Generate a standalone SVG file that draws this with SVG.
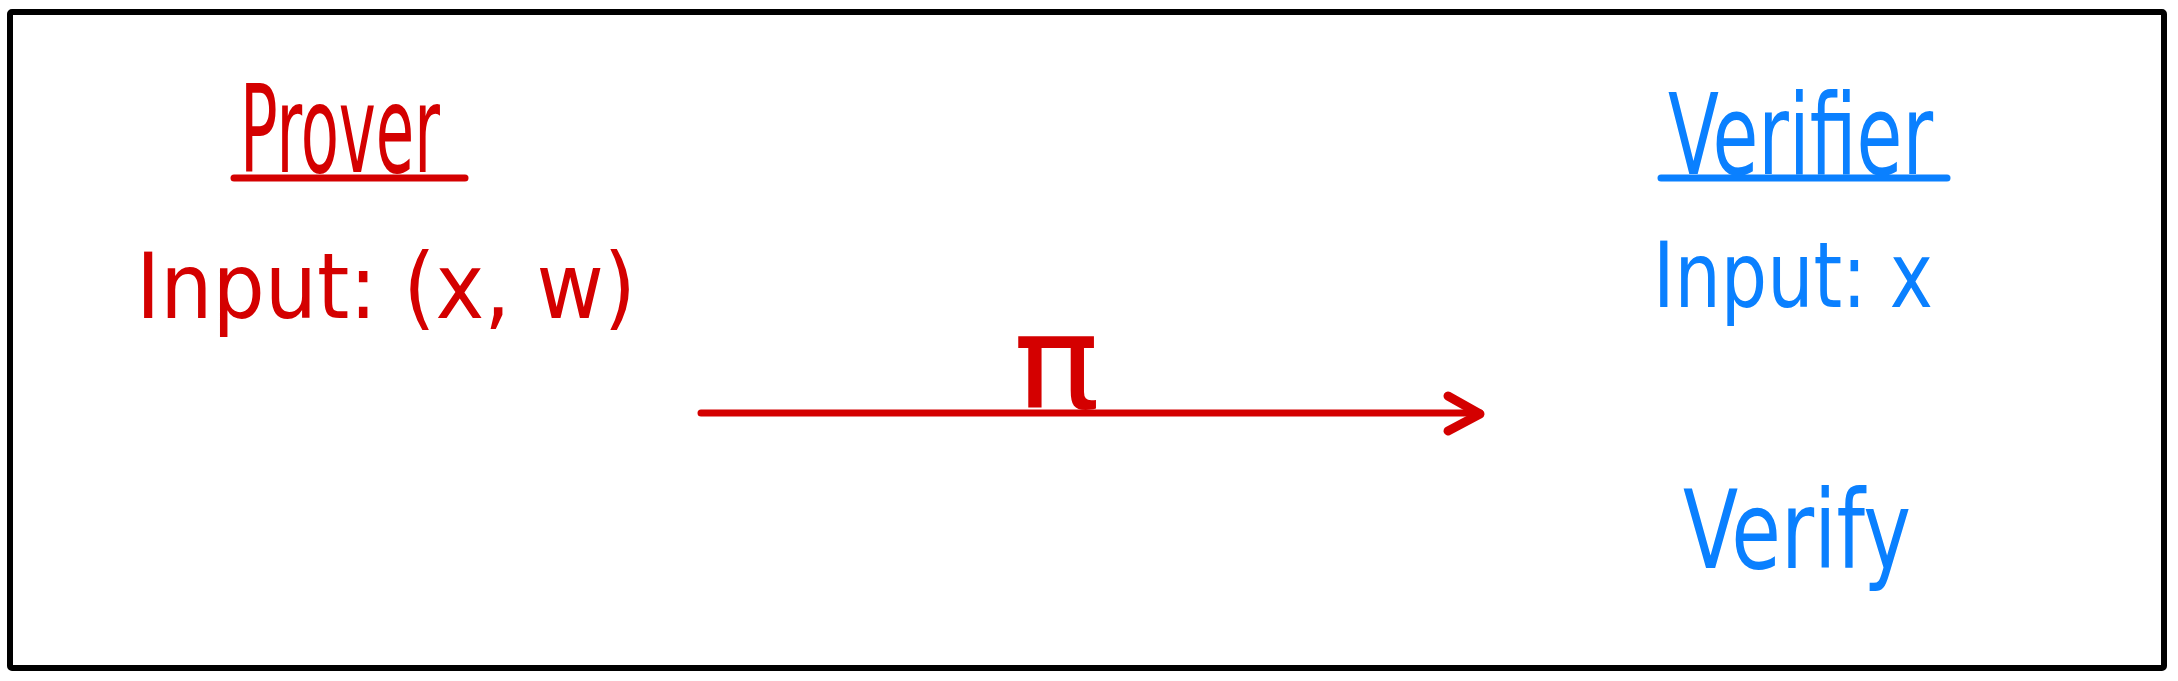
<svg xmlns="http://www.w3.org/2000/svg" width="2178" height="681" viewBox="0 0 2178 681">
  <style>
    .red { fill: #d40000; }
    .blue { fill: #0a80ff; }
    .hand { font-family: "Liberation Sans Narrow", "DejaVu Sans Condensed", "Liberation Sans", sans-serif; }
    .ul-red { stroke: #d40000; stroke-width: 7; stroke-linecap: round; fill: none; }
    .ul-blue { stroke: #0a80ff; stroke-width: 7; stroke-linecap: round; fill: none; }
    .frame { fill: #ffffff; stroke: #000000; stroke-width: 6; }
  </style>
  <defs>
    <marker id="chevron" markerUnits="userSpaceOnUse" markerWidth="60" markerHeight="60" viewBox="-45 -30 60 60" refX="0" refY="0" orient="auto">
      <path d="M-32,-17 L0,1 L-32,18" fill="none" stroke="#d40000" stroke-width="9" stroke-linecap="round" stroke-linejoin="round"/>
    </marker>
  </defs>
  <rect x="0" y="0" width="2178" height="681" fill="#ffffff"/>
  <rect id="frame" class="frame" x="10" y="12" width="2154" height="656" rx="2"/>

  <g id="prover">
    <text class="hand red" x="240" y="172" font-size="122" textLength="200" lengthAdjust="spacingAndGlyphs">Prover</text>
    <line class="ul-red" x1="234" y1="178" x2="465" y2="178"/>
    <text class="hand red" x="136" y="318" font-size="90" textLength="500" lengthAdjust="spacingAndGlyphs">Input: (x, w)</text>
  </g>

  <g id="verifier">
    <text class="hand blue" x="1668" y="174" font-size="112" textLength="265" lengthAdjust="spacingAndGlyphs">Verifier</text>
    <line class="ul-blue" x1="1661" y1="178" x2="1947" y2="178"/>
    <text class="hand blue" x="1653" y="307" font-size="90" textLength="280" lengthAdjust="spacingAndGlyphs">Input: x</text>
    <text class="hand blue" x="1683" y="568" font-size="108" textLength="228" lengthAdjust="spacingAndGlyphs">Verify</text>
  </g>

  <g id="connectors">
    <line x1="701" y1="413" x2="1480" y2="413" stroke="#d40000" stroke-width="7" stroke-linecap="round" marker-end="url(#chevron)"/>
    <text class="hand red" x="1013" y="408" font-size="130" textLength="87" lengthAdjust="spacingAndGlyphs">π</text>
  </g>
</svg>
